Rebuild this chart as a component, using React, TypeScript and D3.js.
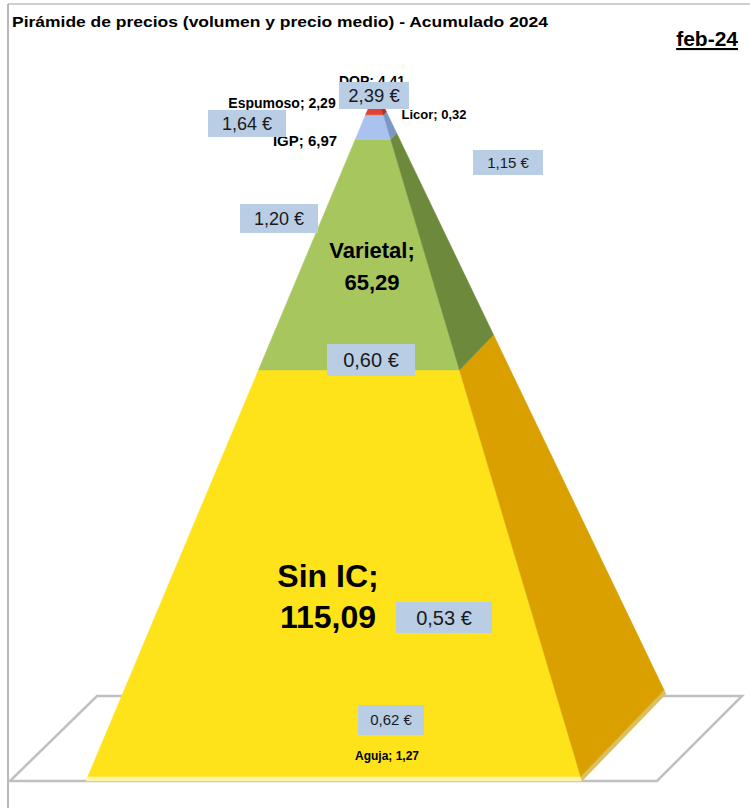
import React from 'react';
import * as d3 from 'd3';

// volume (millones de litros) and average price per segment, bottom to top
const categories = ['Aguja', 'Sin IC', 'Varietal', 'IGP', 'Espumoso', 'DOP', 'Licor'];
const volumes = [1.27, 115.09, 65.29, 6.97, 2.29, 4.41, 0.32];
const prices = [0.62, 0.53, 0.6, 1.2, 1.64, 2.39, 1.15];

const title = 'Pirámide de precios (volumen y precio medio) - Acumulado 2024';
const period = 'feb-24';

// colours: front face / right face
const frontColors = ['#fff3a8', '#ffe31a', '#a8c65e', '#a9c3ee', '#e5412c', '#c0504d', '#f79646'];
const sideColors = ['#dcc060', '#d9a000', '#6d8a3c', '#7d97c4', '#b3301f', '#8c3331', '#c46f28'];

// manual label placement (Excel moved these by hand)
const nameLayout = [
  { x: 387, y: 760, size: 12, lines: 1 },
  { x: 328, y: 587, size: 32, lines: 2, gap: 41 },
  { x: 372, y: 258, size: 22, lines: 2, gap: 32 },
  { x: 305, y: 146, size: 15, lines: 1 },
  { x: 282, y: 108, size: 14, lines: 1 },
  { x: 372, y: 86, size: 14, lines: 1 },
  { x: 434, y: 119, size: 13, lines: 1 },
];
const priceLayout = [
  { x: 358, y: 705, w: 66, h: 30, size: 15 },
  { x: 396, y: 602, w: 96, h: 31, size: 20 },
  { x: 327, y: 344, w: 88, h: 32, size: 20 },
  { x: 240, y: 204, w: 78, h: 29, size: 18 },
  { x: 208, y: 110, w: 78, h: 27, size: 18 },
  { x: 339, y: 82, w: 70, h: 27, size: 18.5 },
  { x: 473, y: 150, w: 70, h: 25, size: 15 },
];

const es = d3.formatLocale({ decimal: ',', thousands: '.', grouping: [3], currency: ['', ' €'] });
const num = es.format('.2f');
const eur = es.format('$.2f');

const App = () => {
  const width = 750;
  const height = 808;
  const total = d3.sum(volumes);
  const cum = [0, ...d3.cumsum(volumes)];

  // pyramid geometry
  const y = d3.scaleLinear().domain([0, total]).range([781, 90]);
  const xL = d3.scaleLinear().domain([0, total]).range([86, 376]);
  const xR = d3.scaleLinear().domain([0, total]).range([582, 376]);
  const xB = d3.scaleLinear().domain([0, total]).range([666, 376]);
  const yB = d3.scaleLinear().domain([0, total]).range([694, 90]);

  const poly = d3.line().curve(d3.curveLinearClosed);

  const floor: [number, number][] = [[10, 781], [97, 696], [742, 696], [657, 781]];

  return (
    <div style={{ position: 'absolute', left: 0, top: 0 }}>
      <svg width={width} height={height} style={{ display: 'block', fontFamily: '"Liberation Sans", Arial, sans-serif' }}>
        <rect width={width} height={height} fill="#fff" />
        <line x1={8} y1={4} x2={width} y2={4} stroke="#c0c0c0" strokeWidth={1.5} />
        <line x1={8} y1={4} x2={8} y2={height} stroke="#a0a0a0" strokeWidth={1.5} />

        <text x={12} y={27} fontSize={15} fontWeight="bold" textLength={536} lengthAdjust="spacingAndGlyphs">{title}</text>
        <text x={738} y={46} fontSize={21} fontWeight="bold" textAnchor="end" textDecoration="underline">{period}</text>

        <path d={poly(floor) || ''} fill="#fff" stroke="#c0c0c0" strokeWidth={2.5} />

        {categories.map((c, i) => {
          const a = cum[i];
          const b = cum[i + 1];
          const front: [number, number][] = [[xL(a), y(a)], [xR(a), y(a)], [xR(b), y(b)], [xL(b), y(b)]];
          const side: [number, number][] = [[xR(a), y(a)], [xB(a), yB(a)], [xB(b), yB(b)], [xR(b), y(b)]];
          return (
            <g key={c}>
              <path d={poly(front) || ''} fill={frontColors[i]} stroke={frontColors[i]} strokeWidth={0.5} />
              <path d={poly(side) || ''} fill={sideColors[i]} stroke={sideColors[i]} strokeWidth={0.5} />
            </g>
          );
        })}

        {categories.map((c, i) => {
          const l = nameLayout[i];
          if (l.lines === 2) {
            return (
              <text key={c} x={l.x} y={l.y} fontSize={l.size} fontWeight="bold" textAnchor="middle">
                <tspan x={l.x}>{c};</tspan>
                <tspan x={l.x} dy={l.gap}>{num(volumes[i])}</tspan>
              </text>
            );
          }
          return (
            <text key={c} x={l.x} y={l.y} fontSize={l.size} fontWeight="bold" textAnchor="middle">
              {`${c}; ${num(volumes[i])}`}
            </text>
          );
        })}

        {categories.map((c, i) => {
          const p = priceLayout[i];
          return (
            <g key={c + '-p'}>
              <rect x={p.x} y={p.y} width={p.w} height={p.h} fill="#b9cde5" />
              <text x={p.x + p.w / 2} y={p.y + p.h / 2} dy="0.36em" fontSize={p.size} textAnchor="middle" fill="#1a1a1a">
                {eur(prices[i])}
              </text>
            </g>
          );
        })}
      </svg>
    </div>
  );
};

export default App;
